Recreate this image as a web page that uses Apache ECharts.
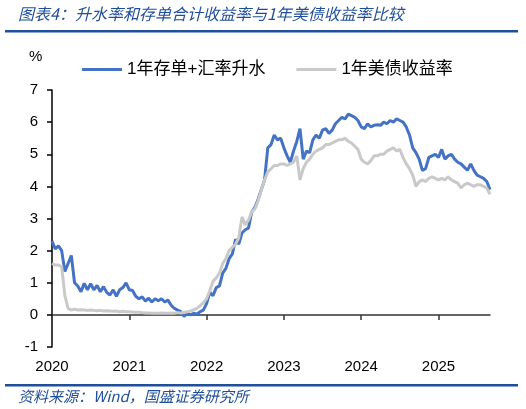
<!DOCTYPE html>
<html>
<head>
<meta charset="utf-8">
<script src="https://cdn.jsdelivr.net/npm/echarts@6/dist/echarts.min.js"></script>
<style>
  html, body { margin: 0; padding: 0; background: #fff; }
  #chart { width: 526px; height: 409px; }
</style>
</head>
<body>
<div id="chart"></div>
<script>
// tick labels on the x axis
const years = ["2020", "2021", "2022", "2023", "2024", "2025"];

// half-month observations, 2020-01 .. 2025-09
const blueVals = [
    2.3, 2.05, 2.15, 2.0, 1.35, 1.6, 1.85, 1.0, 0.9, 0.72, 0.98, 0.78,
    0.97, 0.78, 0.92, 0.72, 0.88, 0.7, 0.62, 0.78, 0.58, 0.78, 0.85, 1.0,
    0.78, 0.76, 0.58, 0.5, 0.56, 0.43, 0.52, 0.4, 0.5, 0.44, 0.5, 0.4,
    0.46, 0.3, 0.2, 0.15, 0.1, -0.05, 0.05, 0.0, 0.05, 0.02, 0.1, 0.15,
    0.35, 0.7, 0.6, 0.85, 0.9, 1.3, 1.45, 1.75, 1.9, 2.35, 2.2, 2.55,
    2.65, 2.7, 3.2, 3.35, 3.6, 3.9, 4.2, 5.2, 5.3, 5.6, 5.45, 5.5,
    5.2, 4.95, 4.75, 5.1, 5.4, 5.8, 4.85, 5.1, 5.05, 5.45, 5.6, 5.5,
    5.75, 5.8, 5.65, 5.75, 5.95, 6.05, 6.15, 6.1, 6.25, 6.2, 6.15, 6.05,
    5.85, 5.8, 5.95, 5.85, 5.9, 5.92, 5.9, 6.0, 5.95, 6.05, 6.0, 6.1,
    6.05, 6.0, 5.85, 5.6, 5.2, 5.05, 4.85, 4.5, 4.55, 4.9, 4.95, 5.0,
    4.9, 5.15, 4.85, 4.95, 5.0, 4.85, 4.75, 4.7, 4.6, 4.5, 4.7, 4.5,
    4.35, 4.3, 4.25, 4.15, 3.9
];
const grayVals = [
    1.6, 1.55, 1.55, 1.5, 0.6, 0.2, 0.15, 0.18, 0.15, 0.16, 0.15, 0.14,
    0.15, 0.14, 0.13, 0.14, 0.12, 0.13, 0.12, 0.11, 0.12, 0.1, 0.11, 0.1,
    0.1, 0.09, 0.08, 0.08, 0.07, 0.06, 0.06, 0.05, 0.05, 0.05, 0.06, 0.05,
    0.05, 0.06, 0.05, 0.07, 0.06, 0.08, 0.1, 0.12, 0.16, 0.2, 0.28, 0.38,
    0.5, 0.75, 1.05, 1.15, 1.3, 1.6, 1.75, 2.0, 2.1, 2.2, 2.4, 3.05,
    2.8, 2.95, 3.2, 3.3, 3.55, 3.9, 4.2, 4.45, 4.55, 4.65, 4.65, 4.7,
    4.7, 4.65, 4.7, 4.75, 4.95, 4.2, 4.55, 4.75, 4.85, 5.0, 5.1, 5.15,
    5.2, 5.3, 5.3, 5.35, 5.4, 5.45, 5.45, 5.5, 5.4, 5.35, 5.25, 5.15,
    4.85, 4.75, 4.7, 4.8, 4.95, 4.95, 5.0, 5.0, 5.1, 5.15, 5.2, 5.1,
    5.15, 4.9, 4.7, 4.55, 4.35, 4.0, 4.15, 4.2, 4.15, 4.25, 4.3, 4.25,
    4.2, 4.25, 4.2, 4.3, 4.2, 4.15, 4.1, 3.95, 4.05, 4.1, 4.05, 4.0,
    4.05, 4.05, 4.0, 3.95, 3.75
];

// category labels: year-month-half
const dates = [];
for (let i = 0; i < blueVals.length; i++) {
    const y = 2020 + Math.floor(i / 24);
    const m = Math.floor((i % 24) / 2) + 1;
    dates.push(y + "-" + String(m).padStart(2, "0") + (i % 2 ? "-16" : "-01"));
}

const isYearStart = (idx) => idx % 24 === 0;
const blue = "#4472C4";
const gray = "#C9C9C9";
const navy = "#1F4E9A";
const font = "'Liberation Sans', Arial, 'Noto Sans CJK SC', sans-serif";

let myChart = echarts.init(document.getElementById("chart"));
option = {
    animation: false,
    textStyle: { fontFamily: font },
    grid: { left: 52, right: 36, top: 90, bottom: 62 },
    legend: {
        left: 77,
        top: 56,
        itemWidth: 40,
        itemHeight: 3,
        itemGap: 31,
        icon: "rect",
        textStyle: { fontSize: 17, color: "#000", fontFamily: font },
        data: ["1年存单+汇率升水", "1年美债收益率"],
    },
    xAxis: [
        {
            // labels at the bottom
            type: "category",
            data: dates,
            boundaryGap: false,
            axisLine: { show: false, onZero: false },
            axisTick: { show: false },
            axisLabel: {
                interval: (idx) => isYearStart(idx),
                formatter: (v) => years[Math.floor(dates.indexOf(v) / 24)] || v.slice(0, 4),
                fontSize: 15,
                color: "#000",
                margin: 12,
            },
        },
        {
            // the zero line with ticks
            type: "category",
            data: dates,
            boundaryGap: false,
            position: "bottom",
            axisLine: { onZero: true, lineStyle: { color: "#333", width: 1.5 } },
            axisTick: {
                interval: (idx) => isYearStart(idx) && idx > 0,
                length: 5,
                lineStyle: { color: "#333", width: 1.5 },
            },
            axisLabel: { show: false },
        },
    ],
    yAxis: {
        type: "value",
        min: -1,
        max: 7,
        interval: 1,
        axisLine: { show: true, lineStyle: { color: "#000", width: 1.5 } },
        axisTick: { show: true, length: 5, lineStyle: { color: "#000", width: 1.5 } },
        splitLine: { show: false },
        axisLabel: { fontSize: 15, color: "#000", margin: 14 },
    },
    series: [
        {
            name: "1年美债收益率",
            type: "line",
            xAxisIndex: 1,
            data: grayVals,
            symbol: "none",
            lineStyle: { color: gray, width: 3 },
            itemStyle: { color: gray },
            z: 2,
        },
        {
            name: "1年存单+汇率升水",
            type: "line",
            xAxisIndex: 1,
            data: blueVals,
            symbol: "none",
            lineStyle: { color: blue, width: 3 },
            itemStyle: { color: blue },
            z: 1,
        },
    ],
    graphic: [
        {
            type: "text",
            left: 18,
            top: 6,
            style: {
                text: "图表4：升水率和存单合计收益率与1年美债收益率比较",
                fontSize: 16,
                fontStyle: "italic",
                fill: navy,
                fontFamily: "'Noto Sans CJK SC', sans-serif",
            },
        },
        {
            type: "rect",
            left: 5,
            top: 30,
            shape: { width: 513, height: 2.5 },
            style: { fill: navy },
        },
        {
            type: "text",
            left: 29,
            top: 49,
            style: { text: "%", fontSize: 15, fill: "#000", fontFamily: font },
        },
        {
            type: "rect",
            left: 5,
            top: 384,
            shape: { width: 513, height: 2.5 },
            style: { fill: navy },
        },
        {
            type: "text",
            left: 18,
            top: 389,
            style: {
                text: "资料来源：Wind，国盛证券研究所",
                fontSize: 15,
                fontStyle: "italic",
                fill: navy,
                fontFamily: "'Noto Sans CJK SC', sans-serif",
            },
        },
    ],
};
myChart.setOption(option);
window.addEventListener("resize", function () {
    myChart.resize();
});
</script>
</body>
</html>
